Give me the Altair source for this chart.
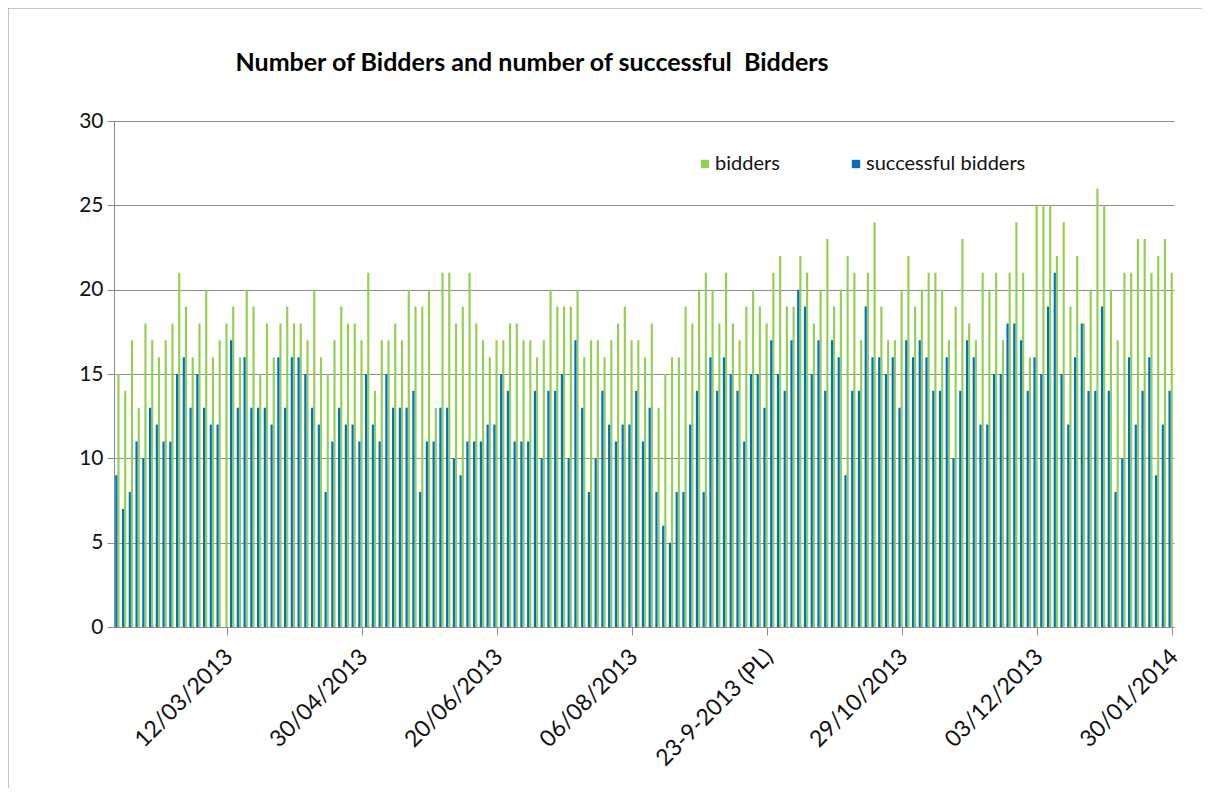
import altair as alt
import pandas as pd

# successful bidders (blue) and bidders (green), one entry per auction
successful = [9, 7, 8, 11, 10, 13, 12, 11, 11, 15, 16, 13, 15, 13, 12, 12, 0, 17, 13, 16,
              13, 13, 13, 12, 16, 13, 16, 16, 15, 13, 12, 8, 11, 13, 12, 12, 11, 15, 12, 11,
              15, 13, 13, 13, 14, 8, 11, 11, 13, 13, 10, 9, 11, 11, 11, 12, 12, 15, 14, 11,
              11, 11, 14, 10, 14, 14, 15, 10, 17, 13, 8, 10, 14, 12, 11, 12, 12, 14, 11, 13,
              8, 6, 5, 8, 8, 12, 14, 8, 16, 14, 16, 15, 14, 11, 15, 15, 13, 17, 15, 14,
              17, 20, 19, 15, 17, 14, 17, 16, 9, 14, 14, 19, 16, 16, 15, 16, 13, 17, 16, 17,
              16, 14, 14, 16, 10, 14, 17, 16, 12, 12, 15, 15, 18, 18, 17, 14, 16, 15, 19, 21,
              15, 12, 16, 18, 14, 14, 19, 14, 8, 10, 16, 12, 14, 16, 9, 12, 14]
bidders = [15, 14, 17, 13, 18, 17, 16, 17, 18, 21, 19, 16, 18, 20, 16, 17, 18, 19, 16, 20,
           19, 15, 18, 16, 18, 19, 18, 18, 17, 20, 16, 15, 17, 19, 18, 18, 17, 21, 14, 17,
           17, 18, 17, 20, 19, 19, 20, 13, 21, 21, 18, 19, 21, 18, 17, 16, 17, 17, 18, 18,
           17, 17, 16, 17, 20, 19, 19, 19, 20, 16, 17, 17, 16, 17, 18, 19, 17, 17, 16, 18,
           13, 15, 16, 16, 19, 18, 20, 21, 20, 18, 21, 18, 17, 19, 20, 19, 18, 21, 22, 19,
           19, 22, 21, 18, 20, 23, 19, 20, 22, 21, 17, 21, 24, 19, 17, 17, 20, 22, 19, 20,
           21, 21, 20, 17, 19, 23, 18, 17, 21, 20, 21, 17, 21, 24, 21, 16, 25, 25, 25, 22,
           24, 19, 22, 18, 20, 26, 25, 20, 17, 21, 21, 23, 23, 21, 22, 23, 21]

tick_positions = [17, 37, 57, 77, 97, 117, 137, 157]
tick_labels = ["12/03/2013", "30/04/2013", "20/06/2013", "06/08/2013",
               "23-9-2013 (PL)", "29/10/2013", "03/12/2013", "30/01/2014"]

series_names = ["bidders", "successful bidders"]
series_colors = ["#92D050", "#0070C0"]

rows = []
for k in range(len(bidders)):
    rows.append({"i": k + 1, "series": "bidders", "value": bidders[k]})
    rows.append({"i": k + 1, "series": "successful bidders", "value": successful[k]})
df = pd.DataFrame(rows)

expr = "''"
for p, lab in reversed(list(zip(tick_positions, tick_labels))):
    expr = f"datum.value == {p} ? '{lab}' : ({expr})"

FONT = "Lato"
PAD_L, PAD_T = 106, 113

bars = alt.Chart(df).mark_bar().encode(
    x=alt.X("i:O", title=None,
            scale=alt.Scale(paddingInner=0.36, paddingOuter=0.18),
            axis=alt.Axis(values=tick_positions, labelExpr=expr, bandPosition=1,
                          labelAngle=-45, labelAlign="right", labelBaseline="top",
                          labelFontSize=23, labelFont=FONT, labelColor="#111111",
                          labelPadding=10, labelOffset=-4, tickSize=8,
                          tickColor="#8c8c8c", domainColor="#8c8c8c", grid=False,
                          labelOverlap=False)),
    xOffset=alt.XOffset("series:N", sort=["successful bidders", "bidders"]),
    y=alt.Y("value:Q", title=None,
            scale=alt.Scale(domain=[0, 30], nice=False),
            axis=alt.Axis(values=[0, 5, 10, 15, 20, 25, 30], labelFontSize=21,
                          labelFont=FONT, labelColor="#111111", tickSize=7,
                          tickColor="#8c8c8c", domainColor="#8c8c8c",
                          gridColor="#8c8c8c", labelPadding=4)),
    color=alt.Color("series:N",
                    scale=alt.Scale(domain=series_names, range=series_colors),
                    legend=alt.Legend(title=None, orient="none", legendX=581, legendY=33,
                                      direction="horizontal", symbolType="square",
                                      symbolSize=70, symbolStrokeWidth=0,
                                      labelFontSize=20, labelFont=FONT,
                                      labelColor="#111111", columnPadding=66,
                                      labelOffset=0)),
)

frame_df = pd.DataFrame({"a": [0]})
left_line = alt.Chart(frame_df).mark_rule(color="#8c8c8c", strokeWidth=1).encode(
    x=alt.value(-PAD_L), y=alt.value(-PAD_T), y2=alt.value(668))
top_line = alt.Chart(frame_df).mark_rule(color="#8c8c8c", strokeWidth=1).encode(
    x=alt.value(-PAD_L), x2=alt.value(1088), y=alt.value(-PAD_T))

chart = alt.layer(bars, left_line, top_line).properties(
    width=1060, height=506,
    autosize="none",
    padding={"left": PAD_L, "top": PAD_T, "right": 28, "bottom": 161},
    title=alt.TitleParams("Number of Bidders and number of successful\u00a0 Bidders",
                          anchor="start", dx=228, offset=-68, fontSize=25,
                          font=FONT, fontWeight="bold", color="#000000"),
).configure_view(stroke=None)

chart.save("out.html", embed_options={"renderer": "svg", "actions": False})
